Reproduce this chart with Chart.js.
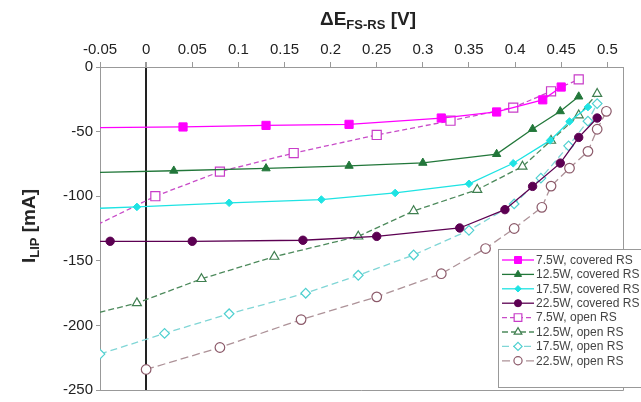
<!DOCTYPE html>
<html>
<head>
<meta charset="utf-8">
<script src="https://cdn.jsdelivr.net/npm/chart.js@4.4.1/dist/chart.umd.min.js"></script>
<style>
  body { margin: 0; background: #fff; }
  #wrap { position: relative; width: 641px; height: 402px; font-family: "Liberation Sans", Arial, sans-serif; }
  .ttl { position: absolute; font-weight: bold; font-size: 19px; color: #222; white-space: nowrap; }
  .ttl sub { font-size: 13px; vertical-align: -4px; }
  #xTitle { left: 368px; top: 8px; transform: translateX(-50%); }
  #yTitle { left: 30px; top: 226px; transform: translate(-50%, -50%) rotate(-90deg); }
</style>
</head>
<body>
<div id="wrap">
  <canvas id="grafico" width="641" height="402"></canvas>
  <div class="ttl" id="xTitle">&Delta;E<sub>FS-RS</sub> [V]</div>
  <div class="ttl" id="yTitle">I<sub>LIP</sub> [mA]</div>
</div>
<script>
// ejes
const xTicks = [-0.05, 0, 0.05, 0.1, 0.15, 0.2, 0.25, 0.3, 0.35, 0.4, 0.45, 0.5];
const xTickLabels = ['-0.05', '0', '0.05', '0.1', '0.15', '0.2', '0.25', '0.3', '0.35', '0.4', '0.45', '0.5'];
const yTicks = [0, -50, -100, -150, -200, -250];

// series [dE, I] (primer punto queda fuera del eje, la linea llega al borde)
const covered75 = [[-0.06, -47], [0.04, -46.4], [0.13, -45.2], [0.22, -44.4], [0.32, -39.5], [0.38, -34.8], [0.43, -25.4], [0.45, -15.5]];
const covered125 = [[-0.06, -81.8], [0.03, -80.3], [0.13, -78.5], [0.22, -76.5], [0.30, -74.2], [0.38, -67.4], [0.419, -48], [0.449, -34.3], [0.469, -22.9]];
const covered175 = [[-0.06, -109.6], [-0.01, -108.3], [0.09, -105.1], [0.19, -102.6], [0.27, -97.5], [0.35, -90.4], [0.398, -74.5], [0.438, -56.8], [0.459, -42.2], [0.479, -31]];
const covered225 = [[-0.06, -135], [-0.039, -134.9], [0.05, -134.9], [0.17, -134.1], [0.25, -131.1], [0.34, -124.6], [0.389, -110.4], [0.419, -92.4], [0.449, -74.4], [0.469, -54.5], [0.489, -39.5]];
const open75 = [[-0.06, -124.5], [0.01, -100], [0.08, -81], [0.16, -66.6], [0.25, -52.6], [0.33, -41.6], [0.398, -31.4], [0.439, -18.8], [0.469, -9.6]];
const open125 = [[-0.06, -191.6], [-0.01, -182.7], [0.06, -164], [0.139, -146.8], [0.23, -131.1], [0.29, -111.4], [0.359, -95], [0.408, -77], [0.439, -57], [0.469, -37.3], [0.489, -20.7]];
const open175 = [[-0.05, -222.2], [0.02, -206.2], [0.09, -191], [0.173, -175.1], [0.23, -161.2], [0.29, -145.5], [0.35, -126.4], [0.399, -106], [0.428, -86], [0.458, -61], [0.479, -41.9], [0.489, -28.3]];
const open225 = [[0, -234.1], [0.08, -217.1], [0.168, -195.5], [0.25, -177.9], [0.32, -160], [0.368, -140.5], [0.399, -125], [0.429, -108.6], [0.439, -92.2], [0.459, -78.3], [0.479, -65.3], [0.489, -48.2], [0.499, -34.3]];

const toXY = arr => arr.map(p => ({x: p[0], y: p[1]}));

function serie(label, datos, color, estilo, radio, abierto, dash, colorMarca) {
    return {
        label: label,
        data: toXY(datos),
        borderColor: color,
        borderWidth: 1.3,
        borderDash: dash || [],
        pointStyle: estilo,
        pointRadius: radio,
        pointBorderWidth: abierto ? 1.2 : 1,
        pointBorderColor: colorMarca || color,
        pointBackgroundColor: abierto ? '#fff' : (colorMarca || color),
        fill: false,
        tension: 0
    };
}

const datasets = [
    serie('7.5W, covered RS', covered75, '#ff00ff', 'rect', 5.8, false),
    serie('12.5W, covered RS', covered125, '#22773a', 'triangle', 4.8, false),
    serie('17.5W, covered RS', covered175, '#1ee3e3', 'rectRot', 3.8, false),
    serie('22.5W, covered RS', covered225, '#5c0052', 'circle', 4.2, false),
    serie('7.5W, open RS', open75, '#c84cc8', 'rect', 6.4, true, [5, 3], '#c83cc8'),
    serie('12.5W, open RS', open125, '#4d8a5c', 'triangle', 5.2, true, [6, 3], '#3f7f50'),
    serie('17.5W, open RS', open175, '#80d6d6', 'rectRot', 4.8, true, [7, 4], '#4fd0d0'),
    serie('22.5W, open RS', open225, '#ad9298', 'circle', 4.8, true, [8, 4], '#8c5a6a')
];

// marco completo del area del grafico
const marco = {
    id: 'marco',
    afterDatasetsDraw(chart) {
        const a = chart.chartArea, ctx = chart.ctx;
        ctx.save();
        ctx.strokeStyle = '#999';
        ctx.lineWidth = 1;
        ctx.beginPath();
        ctx.moveTo(Math.round(a.right) + 0.5, a.top);
        ctx.lineTo(Math.round(a.right) + 0.5, Math.round(a.bottom) + 0.5);
        ctx.lineTo(a.left, Math.round(a.bottom) + 0.5);
        ctx.stroke();
        ctx.restore();
    }
};

// leyenda en caja, abajo a la derecha
const leyenda = {
    id: 'leyenda',
    afterDraw(chart) {
        const ctx = chart.ctx;
        ctx.save();
        ctx.fillStyle = '#fff';
        ctx.fillRect(498.5, 249.5, 150, 138);
        ctx.strokeStyle = '#999';
        ctx.lineWidth = 1;
        ctx.strokeRect(498.5, 249.5, 150, 138);
        chart.data.datasets.forEach((ds, i) => {
            const y = 260 + i * 14.4;
            ctx.strokeStyle = ds.borderColor;
            ctx.lineWidth = ds.borderWidth;
            ctx.setLineDash(ds.borderDash);
            ctx.beginPath();
            ctx.moveTo(502, y);
            ctx.lineTo(534, y);
            ctx.stroke();
            ctx.setLineDash([]);
            ctx.fillStyle = ds.pointBackgroundColor;
            ctx.strokeStyle = ds.pointBorderColor;
            ctx.lineWidth = ds.pointBorderWidth;
            Chart.helpers.drawPoint(ctx, {pointStyle: ds.pointStyle, radius: ds.pointRadius * 0.85, rotation: 0, borderWidth: ds.pointBorderWidth}, 518, y);
            ctx.fillStyle = '#444';
            ctx.font = '12px "Liberation Sans", Arial, sans-serif';
            ctx.textBaseline = 'middle';
            ctx.fillText(ds.label, 536, y + 0.5);
        });
        ctx.restore();
    }
};

document.addEventListener('DOMContentLoaded', function(){
    const ctx = document.getElementById('grafico').getContext('2d');
    new Chart(ctx, {
        type: 'line',
        data: { datasets: datasets },
        plugins: [marco, leyenda],
        options: {
            responsive: false,
            animation: false,
            events: [],
            layout: { padding: { top: 1, left: 0, right: 18, bottom: 6 } },
            plugins: { legend: { display: false }, tooltip: { enabled: false } },
            scales: {
                x: {
                    type: 'linear',
                    position: 'top',
                    min: -0.05,
                    max: 0.517,
                    afterBuildTicks: s => { s.ticks = xTicks.map(v => ({value: v})); },
                    afterFit: s => { s.height = 66; },
                    ticks: {
                        callback: (v, i) => xTickLabels[i],
                        font: { family: '"Liberation Sans", Arial, sans-serif', size: 15 },
                        color: '#222',
                        padding: 3,
                        maxRotation: 0,
                        autoSkip: false
                    },
                    grid: {
                        drawOnChartArea: true,
                        color: c => (c.tick && c.tick.value === 0) ? '#222' : 'rgba(0,0,0,0)',
                        lineWidth: c => (c.tick && c.tick.value === 0) ? 2 : 1,
                        tickColor: '#999',
                        tickLength: 5
                    },
                    border: { color: '#999' }
                },
                y: {
                    min: -250,
                    max: 0,
                    afterBuildTicks: s => { s.ticks = yTicks.map(v => ({value: v})); },
                    afterFit: s => { s.width = 100; },
                    ticks: {
                        font: { family: '"Liberation Sans", Arial, sans-serif', size: 15 },
                        color: '#222',
                        padding: 3
                    },
                    grid: { drawOnChartArea: false, tickColor: '#999', tickLength: 4 },
                    border: { color: '#999' }
                }
            }
        }
    });
});
</script>
</body>
</html>
